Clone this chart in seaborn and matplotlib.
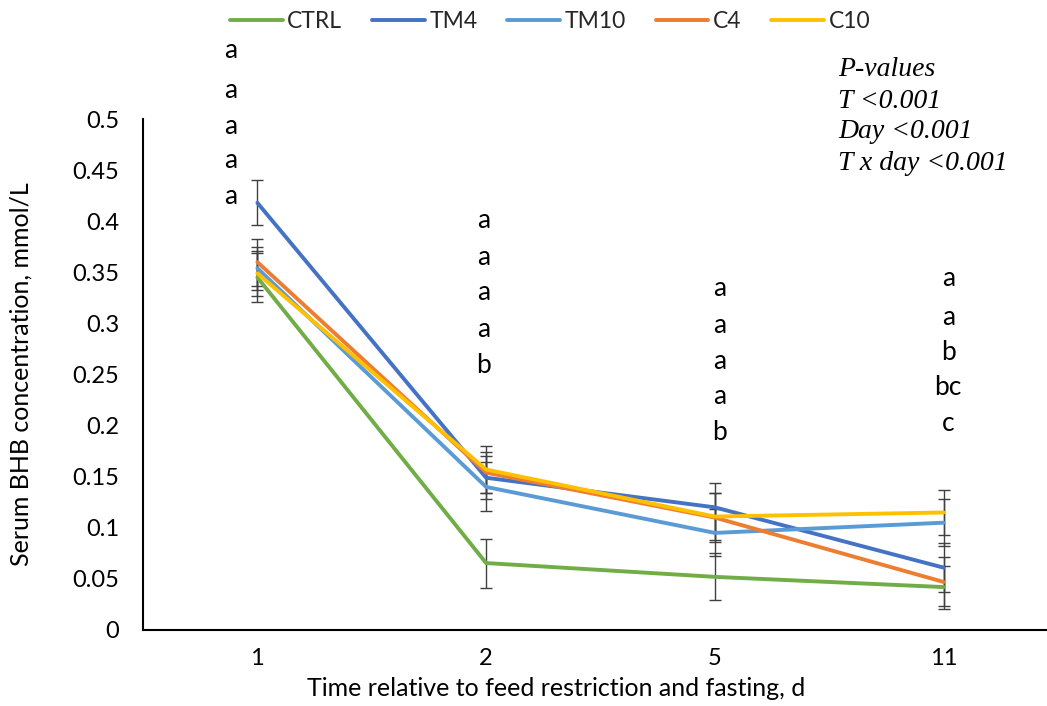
import numpy as np
import pandas as pd
import matplotlib
matplotlib.use("Agg")
import matplotlib.pyplot as plt
import seaborn as sns

days = ["1", "2", "5", "11"]
groups = ["CTRL", "TM4", "TM10", "C4", "C10"]
ctrl = [0.345, 0.0655, 0.052, 0.042]
tm4 = [0.418, 0.149, 0.120, 0.061]
tm10 = [0.354, 0.140, 0.095, 0.105]
c4 = [0.360, 0.154, 0.110, 0.047]
c10 = [0.349, 0.157, 0.111, 0.115]
ctrl_se = [0.024, 0.024, 0.023, 0.021]
tm4_se = [0.022, 0.021, 0.024, 0.024]
tm10_se = [0.021, 0.024, 0.023, 0.023]
c4_se = [0.023, 0.020, 0.024, 0.024]
c10_se = [0.022, 0.023, 0.023, 0.022]
letters_d1 = ["a", "a", "a", "a", "a"]
letters_d2 = ["a", "a", "a", "a", "b"]
letters_d5 = ["a", "a", "a", "a", "b"]
letters_d11 = ["a", "a", "b", "bc", "c"]
pvalue_lines = ["P-values", "T <0.001", "Day <0.001", "T x day <0.001"]

colors = {"CTRL": "#70AD47", "TM4": "#4472C4", "TM10": "#5B9BD5",
          "C4": "#ED7D31", "C10": "#FFC000"}

means = {"CTRL": ctrl, "TM4": tm4, "TM10": tm10, "C4": c4, "C10": c10}
ses = {"CTRL": ctrl_se, "TM4": tm4_se, "TM10": tm10_se, "C4": c4_se, "C10": c10_se}

rows = []
for g in groups:
    for d, m, s in zip(days, means[g], ses[g]):
        rows.append({"Day": d, "Group": g, "BHB": m, "SE": s})
df = pd.DataFrame(rows)

sns.set_theme(style="white")
plt.rcParams["font.family"] = ["Lato", "DejaVu Sans"]

W, H = 1047, 706
fig = plt.figure(figsize=(W / 100, H / 100), dpi=100)
left, right, top, bottom = 143, 1058, 119, 630
ax = fig.add_axes([left / W, (H - bottom) / H, (right - left) / W, (bottom - top) / H])

# error bars (behind lines)
for g in groups:
    sub = df[df.Group == g]
    ax.errorbar(sub["Day"], sub["BHB"], yerr=sub["SE"], fmt="none",
                ecolor="#404040", elinewidth=1.0, capsize=4.5, capthick=1.0, zorder=1)

sns.lineplot(data=df, x="Day", y="BHB", hue="Group", hue_order=groups,
             palette=colors, linewidth=2.8, sort=False, ax=ax, legend=True, zorder=3)

ax.set_xlim(-0.5, 3.5)
ax.set_ylim(0, 0.5)
ax.set_yticks(np.arange(0, 0.51, 0.05))
ax.set_yticklabels(["0", "0.05", "0.1", "0.15", "0.2", "0.25", "0.3", "0.35", "0.4", "0.45", "0.5"])
ax.tick_params(axis="both", labelsize=17, colors="black", width=1.3, direction="out")
ax.tick_params(axis="x", length=4, pad=9)
ax.tick_params(axis="y", length=6, pad=11)
for s in ["top", "right"]:
    ax.spines[s].set_visible(False)
for s in ["left", "bottom"]:
    ax.spines[s].set_color("black")
    ax.spines[s].set_linewidth(1.5)
ax.spines["bottom"].set_zorder(5)

ax.set_xlabel("Time relative to feed restriction and fasting, d", fontsize=18, color="black")
ax.xaxis.set_label_coords((556 - left) / (right - left), -0.092)
ax.set_ylabel("Serum BHB concentration, mmol/L", fontsize=18, color="black")
ax.yaxis.set_label_coords((33 - left) / (right - left), 0.5)

# letters
letter_sets = [letters_d1, letters_d2, letters_d5, letters_d11]
letter_dx = [-0.118, -0.01, 0.02, 0.02]
letter_y = [[0.5675, 0.528, 0.493, 0.459, 0.424],
            [0.401, 0.364, 0.330, 0.294, 0.259],
            [0.3346, 0.2984, 0.263, 0.228, 0.193],
            [0.344, 0.306, 0.272, 0.237, 0.2025]]
for i, (lets, dx, ys) in enumerate(zip(letter_sets, letter_dx, letter_y)):
    for L, yv in zip(lets, ys):
        ax.text(i + dx, yv, L, fontsize=19, ha="center", va="center",
                color="black", clip_on=False)

# p-values text
for k, line in enumerate(pvalue_lines):
    fig.text(838 / W, 1 - (70 + k * 31) / H, line, fontsize=20, style="italic",
             family="Liberation Serif", ha="left", va="center", color="black")

# legend
handles, labels = ax.get_legend_handles_labels()
ax.get_legend().remove()
fig.legend(handles, labels, loc="center", bbox_to_anchor=(550 / W, 1 - 22 / H),
           ncol=5, frameon=False, fontsize=16.5, handlelength=2.3,
           handletextpad=0.2, columnspacing=1.3)

fig.savefig("out.png", dpi=100)
